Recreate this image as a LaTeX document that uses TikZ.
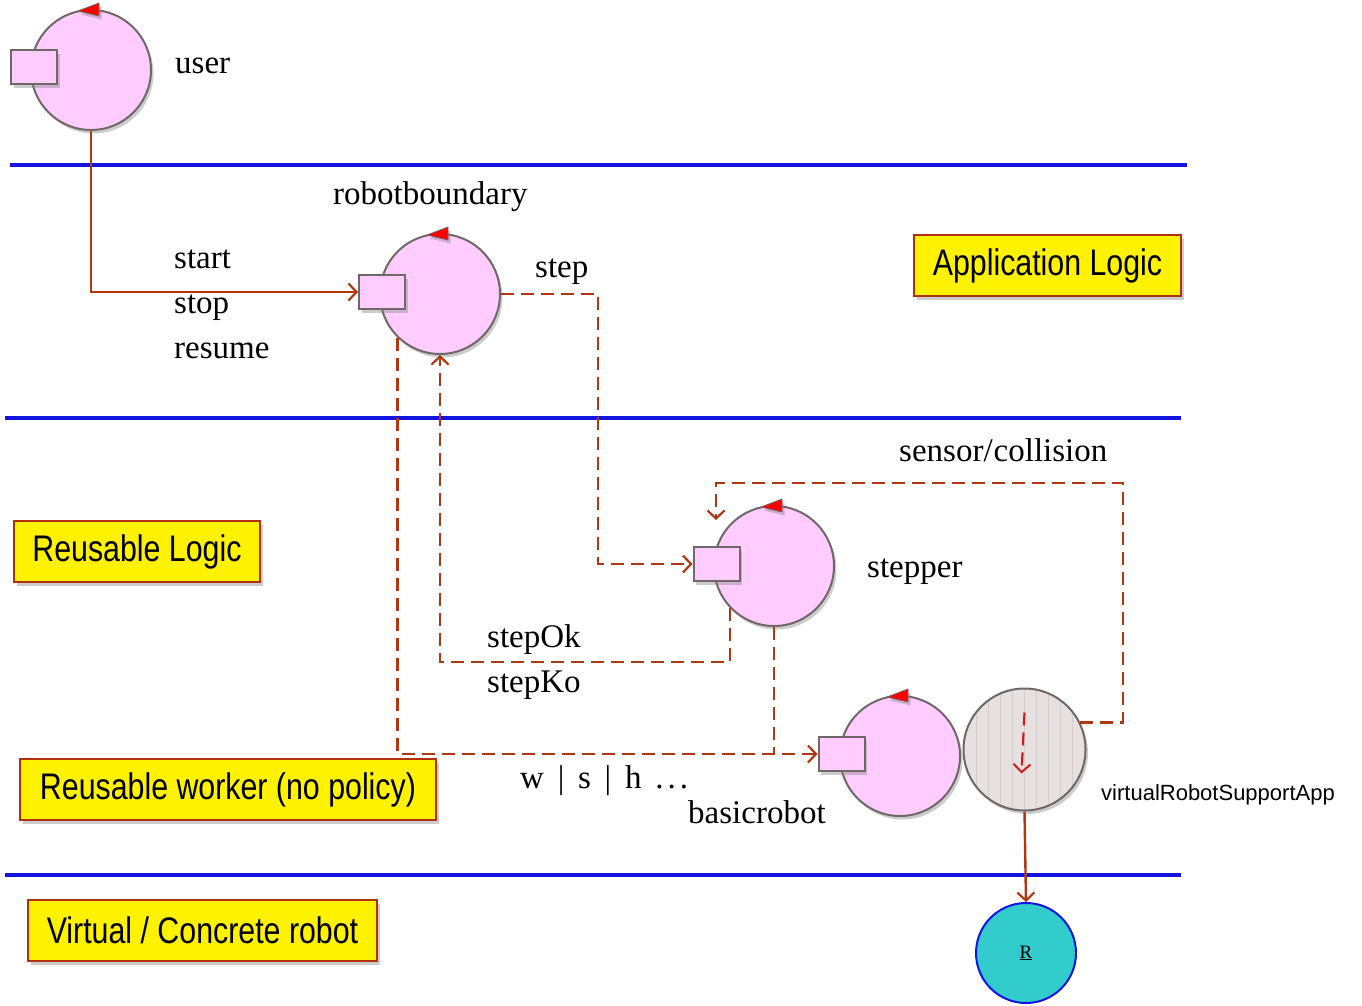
\documentclass[tikz,border=0pt]{standalone}
\usepackage{fontspec}
\setmainfont{Liberation Serif}
\newfontfamily\arialf{Liberation Sans}
\usetikzlibrary{arrows.meta,shadows,calc}
\definecolor{pinkf}{RGB}{255,204,255}
\definecolor{edgeg}{RGB}{112,104,104}
\definecolor{conn}{RGB}{176,56,16}
\definecolor{bline}{RGB}{20,20,225}
\definecolor{cyanf}{RGB}{51,204,204}
\definecolor{grayf}{RGB}{230,224,224}
\definecolor{stripe}{RGB}{214,206,206}
\definecolor{boxedge}{RGB}{176,48,16}
\definecolor{innerred}{RGB}{205,30,30}
\begin{document}
\begin{tikzpicture}[x=1pt,y=-1pt,
  shad/.style={drop shadow={shadow xshift=2.5pt,shadow yshift=-3.5pt,opacity=0.4}},
  actor/.style={circle,draw=edgeg,line width=2pt,fill=pinkf,minimum size=120pt,inner sep=0pt,shad},
  port/.style={rectangle,draw=edgeg,line width=2pt,fill=pinkf,minimum width=46pt,minimum height=34pt,inner sep=0pt,shad},
  lbl/.style={anchor=base west,inner sep=0pt,font=\fontsize{33}{38}\selectfont},
  ybox/.style={rectangle,draw=boxedge,line width=2.2pt,fill=yellow,inner sep=0pt,shad,font=\arialf\fontsize{37}{42}\selectfont},
  conn/.style={draw=conn,line width=2.4pt,-{Straight Barb[length=8pt,width=17pt,line width=2.2pt]}},
  connn/.style={draw=conn,line width=2.4pt},
  dconn/.style={conn,dash pattern=on 13pt off 7pt},
  dconnn/.style={connn,dash pattern=on 13pt off 7pt},
  sep/.style={draw=bline,line width=4pt},
]
\useasboundingbox (0,0) rectangle (1362,1006);

% layer separators
\draw[sep] (10,165) -- (1187,165);
\draw[sep] (5,418) -- (1181,418);
\draw[sep] (5,875) -- (1181,875);

% yellow layer labels
\node[ybox,minimum width=267pt,minimum height=61pt] (applog) at (1047.5,265.5) {\scalebox{0.82}[1]{Application Logic}};
\node[ybox,minimum width=246pt,minimum height=61pt] (reulog) at (137,551.5) {\scalebox{0.82}[1]{Reusable Logic}};
\node[ybox,minimum width=416pt,minimum height=61pt] (worker) at (228,789.5) {\scalebox{0.82}[1]{Reusable worker (no policy)}};
\node[ybox,minimum width=349pt,minimum height=61pt] (virt) at (202.5,930.5) {\scalebox{0.82}[1]{Virtual / Concrete robot}};

% actors
\node[actor] (user) at (91,70) {};
\node[actor] (rb) at (440,294) {};
\node[actor] (st) at (774,566) {};
\node[actor] (br) at (900,756) {};
\node[circle,draw=edgeg,line width=2pt,fill=grayf,minimum size=122pt,inner sep=0pt,shad,
  path picture={\foreach \i in {-60,-48,...,60}
    \draw[stripe,line width=1pt] ([xshift=\i pt]path picture bounding box.north) -- ([xshift=\i pt]path picture bounding box.south);}]
  (vr) at (1024.5,749.5) {};
\node[circle,draw=bline,line width=2pt,fill=cyanf,minimum size=100pt,inner sep=0pt] (robot) at (1026,953) {\fontsize{19}{22}\selectfont\underline{R}};

% triangles on actors
\foreach \n in {user,rb,st,br}
  \filldraw[fill=red,draw=edgeg,line width=0.8pt,shad]
    ($(\n.north)+(-13,2)$) -- ($(\n.north)+(8,-6)$) -- ($(\n.north)+(8,7)$) -- cycle;

% ports
\node[port] (userport) at (34,67.5) {};
\node[port] (rbport) at (382,292) {};
\node[port] (stport) at (716.5,564) {};
\node[port] (brport) at (841.5,754) {};

% labels
\node[lbl] (luser) at (175,74) {user};
\node[lbl] (lrb) at (333,204) {robotboundary};
\node[lbl] (lstart) at (174,268) {start};
\node[lbl] (lstop) at (174,313) {stop};
\node[lbl] (lresume) at (174,358) {resume};
\node[lbl] (lstep) at (535,277) {step};
\node[lbl] (lsensor) at (899,461) {sensor/\kern1pt collision};
\node[lbl] (lstepper) at (867,577) {stepper};
\node[lbl] (lok) at (487,647) {stepOk};
\node[lbl] (lko) at (487,692) {stepKo};
\node[lbl] (lwsh) at (520,788) {w \,|\, s \,|\, h \,.\kern4pt.\kern4pt.};
\node[lbl] (lbr) at (688,823) {basicrobot};
\node[anchor=base west,inner sep=0pt,font=\arialf\fontsize{22}{26}\selectfont] (lvr) at (1101,800) {virtualRobotSupportApp};

% helper coordinates
\coordinate (okc) at (440,662);
\coordinate (sc1) at (1123,483);
\coordinate (sensend) at (716,520);

% connectors
\draw[conn] (user.south) |- (rbport.west);
\draw[dconn] (rb.east) -- ++(97,0) |- (stport.west);
\draw[dconn] (st.224) |- (okc) -- (rb.south);
\draw[dconn] (rb.226) |- (brport.west);
\draw[dconnn] (st.south) -- (st.south |- brport.west);
\draw[dconn] (vr.26) -| (sc1) -| (sensend);
\draw[conn] (vr.south) -- (robot.north);
\draw[draw=innerred,line width=2.2pt,dash pattern=on 13pt off 7pt,-{Straight Barb[length=8pt,width=17pt,line width=2pt]}]
  ($(vr.center)+(0,-37)$) -- ($(vr.center)+(-3,24)$);
\end{tikzpicture}
\end{document}
